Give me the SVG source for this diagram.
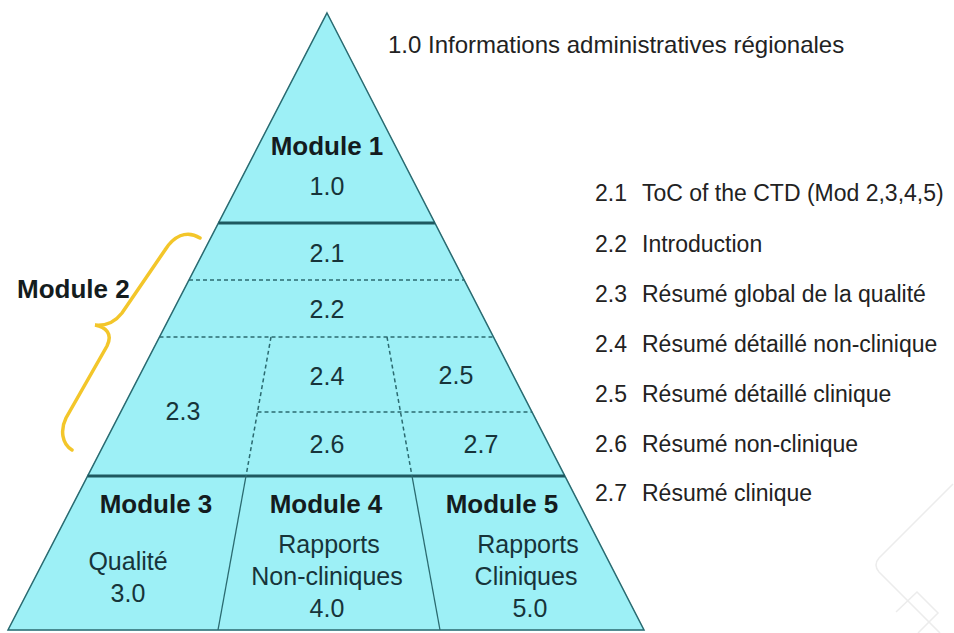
<svg xmlns="http://www.w3.org/2000/svg" width="954" height="633" viewBox="0 0 954 633">
<style>
text{font-family:"Liberation Sans",Arial,Helvetica,sans-serif;}
.cell{fill:#9df0f6;stroke:#9df0f6;stroke-width:1;}
.mod{font-size:26px;font-weight:bold;fill:#141c1e;text-anchor:middle;}
.lbl{font-size:25px;fill:#17343a;text-anchor:middle;}
.lst{font-size:23px;fill:#222;}
.edge{fill:none;stroke:#2b6a70;stroke-width:1.5;}
.thick{stroke:#1f5960;stroke-width:3;}
.dash{stroke:#2b6a70;stroke-width:1.5;stroke-dasharray:4 3;fill:none;}
.thin{stroke:#2b6a70;stroke-width:1.3;}
</style>
<rect width="954" height="633" fill="#ffffff"/>
<g id="watermark" fill="none" stroke="#ececec" stroke-width="1.5">
<path d="M953 484 L879 558 Q873 565 879 572 L940 633"/>
<path d="M896 612 L917 592 L938 613 L918 633"/>
</g>
<g id="pyramid-bg"><polygon points="327,13 644,630 8,630" fill="#9df0f6"/></g>
<g id="module1"><polygon class="cell" points="327,13 434.9,223 218.4,223"/><text class="mod" x="327" y="155">Module 1</text><text class="lbl" x="327" y="195">1.0</text></g>
<g id="s21"><polygon class="cell" points="218.4,223 434.9,223 464.2,280 189,280"/><text class="lbl" x="327" y="262">2.1</text></g>
<g id="s22"><polygon class="cell" points="189,280 464.2,280 493.5,337 159.5,337"/><text class="lbl" x="327" y="318">2.2</text></g>
<g id="s23"><polygon class="cell" points="159.5,337 271,337 246,476 87.6,476"/><text class="lbl" x="183" y="420">2.3</text></g>
<g id="s24"><polygon class="cell" points="271,337 387,337 400.5,412 257.5,412"/><text class="lbl" x="327" y="385">2.4</text></g>
<g id="s25"><polygon class="cell" points="387,337 493.5,337 532.1,412 400.5,412"/><text class="lbl" x="456" y="384">2.5</text></g>
<g id="s26"><polygon class="cell" points="257.5,412 400.5,412 412,476 246,476"/><text class="lbl" x="327" y="453">2.6</text></g>
<g id="s27"><polygon class="cell" points="400.5,412 532.1,412 565,476 412,476"/><text class="lbl" x="481" y="453">2.7</text></g>
<g id="module3"><polygon class="cell" points="87.6,476 246,476 218,630 8,630"/><text class="mod" x="156" y="513">Module 3</text><text class="lbl" x="128" y="570">Qualité</text><text class="lbl" x="128" y="602">3.0</text></g>
<g id="module4"><polygon class="cell" points="246,476 412,476 440,630 218,630"/><text class="mod" x="326" y="513">Module 4</text><text class="lbl" x="329" y="553">Rapports</text><text class="lbl" x="327" y="585">Non-cliniques</text><text class="lbl" x="327" y="617">4.0</text></g>
<g id="module5"><polygon class="cell" points="412,476 565,476 644,630 440,630"/><text class="mod" x="502" y="513">Module 5</text><text class="lbl" x="528" y="553">Rapports</text><text class="lbl" x="526" y="585">Cliniques</text><text class="lbl" x="530" y="617">5.0</text></g>
<g id="connectors">
<polygon class="edge" points="327,13 644,630 8,630"/>
<line class="thick" x1="218.4" y1="223" x2="434.9" y2="223"/>
<line class="thick" x1="87.6" y1="476" x2="565" y2="476"/>
<line class="dash" x1="189" y1="280" x2="464.2" y2="280"/>
<line class="dash" x1="159.5" y1="337" x2="493.5" y2="337"/>
<line class="dash" x1="257.5" y1="412" x2="532.1" y2="412"/>
<line class="dash" x1="271" y1="337" x2="246" y2="476"/>
<line class="dash" x1="387" y1="337" x2="412" y2="476"/>
<line class="thin" x1="246" y1="476" x2="218" y2="630"/>
<line class="thin" x1="412" y1="476" x2="440" y2="630"/>
</g>
<g id="module2-brace">
<path d="M200 238 C186 229 173 237 165 250 L122 313 C115 322 105 326 95 325 C106 327 113 334 107 346 L66 418 C60 430 62 444 72 450" fill="none" stroke="#f3c62a" stroke-width="3.5" stroke-linecap="round"/>
<text class="mod" x="17" y="298" style="text-anchor:start">Module 2</text>
</g>
<g id="legend">
<text class="lst" x="388" y="53" style="font-size:24px">1.0</text><text class="lst" x="428" y="53" style="font-size:24px">Informations administratives régionales</text>
<text class="lst" x="595" y="201">2.1</text><text class="lst" x="642" y="201">ToC of the CTD (Mod 2,3,4,5)</text>
<text class="lst" x="595" y="252">2.2</text><text class="lst" x="642" y="252">Introduction</text>
<text class="lst" x="595" y="302">2.3</text><text class="lst" x="642" y="302">Résumé global de la qualité</text>
<text class="lst" x="595" y="352">2.4</text><text class="lst" x="642" y="352">Résumé détaillé non-clinique</text>
<text class="lst" x="595" y="402">2.5</text><text class="lst" x="642" y="402">Résumé détaillé clinique</text>
<text class="lst" x="595" y="452">2.6</text><text class="lst" x="642" y="452">Résumé non-clinique</text>
<text class="lst" x="595" y="501">2.7</text><text class="lst" x="642" y="501">Résumé clinique</text>
</g>
</svg>
